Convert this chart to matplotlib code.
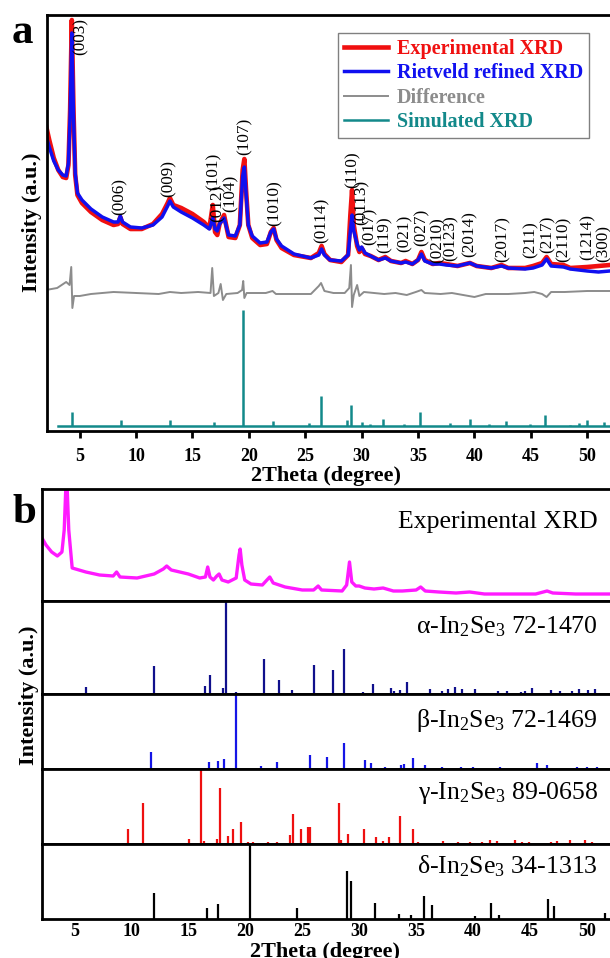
import matplotlib
matplotlib.use("Agg")
import matplotlib.pyplot as plt

plt.rcParams['font.family'] = ['Liberation Serif', 'DejaVu Serif']
plt.rcParams['mathtext.fontset'] = 'custom'
plt.rcParams['mathtext.rm'] = 'Liberation Serif'
plt.rcParams['mathtext.it'] = 'Liberation Serif:italic'

# ---- panel a: experimental / refined / difference / simulated ----
exp_x = [2.0, 2.3, 2.7, 3.1, 3.5, 3.8, 4.0, 4.15, 4.3, 4.45, 4.6, 4.8, 5.2, 6.0, 7.0, 8.0,
         8.4, 8.6, 8.8, 9.5, 10.5, 11.5, 12.3, 12.8, 13.0, 13.3, 14.0, 15.0, 16.0, 16.5,
         16.8, 17.0, 17.2, 17.4, 17.8, 18.2, 18.8, 19.2, 19.45, 19.6, 19.75, 19.95, 20.3,
         21.0, 21.6, 21.95, 22.2, 22.45, 22.9, 24.0, 25.5, 26.2, 26.45, 26.7, 27.2, 28.2,
         28.8, 29.0, 29.15, 29.3, 29.6, 29.8, 30.0, 30.3, 30.8, 31.5, 32.1, 32.6, 33.5,
         33.9, 34.5, 35.0, 35.3, 35.6, 36.3, 36.9, 37.5, 38.5, 39.6, 40.2, 41.5, 42.4,
         43.0, 44.5, 45.2, 46.0, 46.4, 46.8, 47.9, 48.5, 50.0, 51.0, 52.0]
exp_y = [306, 291, 273, 261, 254, 253, 266, 321, 411, 321, 256, 236, 228, 219, 211, 206,
         207, 214, 207, 202, 202, 207, 217, 228, 233, 226, 223, 217, 209, 203,
         226, 199, 196, 207, 216, 194, 193, 206, 261, 272, 241, 206, 193,
         186, 187, 199, 203, 191, 183, 176, 173, 178, 185, 177, 171, 169,
         176, 216, 241, 206, 185, 179, 183, 177, 175, 171, 174, 170, 168,
         170, 167, 171, 179, 171, 167, 168, 167, 165, 168, 165, 163, 166,
         163, 163, 165, 168, 174, 167, 166, 163, 164, 165, 166]
fit_y = [296, 284, 270, 261, 256, 255, 268, 315, 398, 315, 258, 238, 231, 222, 214, 209,
         209, 215, 209, 204, 203, 206, 214, 225, 230, 224, 219, 213, 206, 202,
         213, 202, 200, 207, 213, 196, 195, 206, 255, 264, 238, 206, 195,
         188, 189, 199, 202, 192, 185, 177, 173, 176, 182, 176, 171, 170,
         176, 200, 216, 200, 187, 181, 184, 178, 175, 171, 173, 170, 168,
         169, 167, 171, 177, 170, 167, 167, 166, 165, 168, 165, 163, 165,
         163, 162, 163, 166, 172, 165, 164, 162, 160, 159, 160]

diff_x = [2.0, 3.0, 3.8, 4.1, 4.25, 4.35, 4.5, 5.0, 6, 8, 10, 12, 13, 14, 15.5, 16.6, 16.75,
          16.9, 17.3, 17.5, 17.7, 18.0, 19.0, 19.4, 19.5, 19.6, 19.8, 21.5, 22.1, 22.4,
          25.5, 26.2, 26.4, 26.7, 27.5, 28.5, 28.9, 29.05, 29.15, 29.3, 29.6, 29.8, 30.2,
          32, 33, 34, 34.8, 35.3, 35.6, 37, 38, 39.5, 40, 41, 43, 44.5, 45.3, 46.0, 46.4,
          46.8, 48, 50, 52]
diff_y = [141, 143, 149, 146, 164, 123, 135, 135, 137, 139, 138, 137, 139, 138, 139, 138, 163,
          135, 138, 147, 131, 137, 138, 141, 150, 133, 138, 138, 140, 137,
          137, 145, 148, 140, 138, 138, 143, 166, 124, 136, 146, 135, 139,
          137, 138, 136, 139, 141, 138, 137, 138, 135, 134, 137, 137, 138, 139, 137, 134,
          139, 139, 140, 140]

sim_start, sim_end, sim_base = 3.1, 52.0, 5
sim_pos = [4.3, 8.7, 13.0, 16.9, 19.5, 22.1, 25.3, 26.4, 28.7, 29.06, 30.0, 30.7, 31.9,
           33.8, 35.2, 37.8, 39.6, 41.3, 42.8, 44.9, 46.3, 48.5, 49.3, 50.0, 51.5]
sim_int = [14, 6, 6, 4, 116, 5, 3, 30, 6, 21, 4, 2, 7, 2, 14, 3, 7, 2, 5, 2, 11, 1, 3, 6, 4]

hkl_labels = ['(003)', '(006)', '(009)', '(101)', '(012)', '(104)', '(107)', '(1010)',
              '(0114)', '(110)', '(0113)', '(017)', '(119)', '(021)', '(027)', '(0210)',
              '(0123)', '(2014)', '(2017)', '(211)', '(217)', '(2110)', '(1214)', '(300)']
hkl_x = [5.1, 8.5, 12.9, 16.85, 17.2, 18.35, 19.6, 22.25, 26.45, 29.2, 30.0, 30.7, 32.05,
         33.8, 35.3, 36.7, 37.9, 39.6, 42.5, 45.0, 46.45, 47.9, 50.0, 51.45]
hkl_y = [376, 216, 234, 241, 209, 219, 276, 205, 188, 243, 206, 186, 178, 179, 185, 168,
         170, 174, 169, 173, 178, 169, 171, 169]

# ---- panel b: experimental + reference stick patterns ----
mag_x = [2.0, 2.5, 3.0, 3.5, 3.9, 4.1, 4.3, 4.5, 4.8, 6.0, 7.2, 8.4, 8.7, 9.0, 10.5, 12.0,
         12.8, 13.1, 13.5, 15.0, 16.0, 16.5, 16.7, 16.9, 17.2, 17.5, 17.7, 17.95, 18.5,
         19.2, 19.45, 19.55, 19.7, 19.95, 20.5, 21.5, 21.9, 22.15, 22.45, 23.5, 25.0,
         26.0, 26.4, 26.7, 28.5, 28.9, 29.15, 29.35, 29.7, 30.0, 30.5, 31.3, 32.1, 33.0,
         33.8, 35.0, 35.4, 35.8, 37.0, 38.5, 39.7, 41.0, 43.0, 45.5, 46.5, 47.0, 49.0, 52.0]
mag_y = [66, 56, 49, 45, 49, 71, 131, 71, 33, 29, 26, 25, 29, 24, 23, 27,
         32, 35, 31, 27, 23, 24, 34, 24, 21, 25, 27, 21, 19,
         23, 46, 52, 36, 21, 17, 16, 21, 24, 18, 14, 11,
         11, 15, 11, 10, 16, 39, 19, 15, 15, 13, 12, 13, 10,
         10, 11, 14, 10, 9, 8, 9, 7, 7, 7, 10, 8, 7, 7]

alpha_pos = [6.0, 12.0, 16.5, 16.9, 18.0, 18.3, 19.2, 21.6, 23.0, 24.1, 26.05, 27.7, 28.7,
             30.35, 31.2, 32.8, 33.1, 33.6, 34.2, 36.2, 37.25, 37.8, 38.4, 39.0, 40.2,
             42.2, 43.0, 44.2, 44.6, 45.2, 46.8, 47.6, 48.7, 49.3, 50.1, 50.7]
alpha_int = [7, 28, 8, 19, 6, 92, 2, 35, 14, 4, 29, 24, 45,
             2, 10, 6, 3, 4, 12, 5, 3, 5, 7, 5, 5,
             3, 3, 2, 3, 6, 4, 3, 3, 5, 4, 5]

beta_pos = [11.7, 16.8, 17.6, 18.15, 19.15, 21.4, 22.75, 25.7, 27.2, 28.7, 30.5, 31.0,
            32.3, 33.7, 33.9, 34.7, 35.8, 37.25, 38.9, 40.0, 42.4, 45.6, 46.5, 49.1,
            50.0, 50.9]
beta_int = [17, 7, 8, 10, 75, 3, 7, 14, 12, 26, 9, 6,
            2, 4, 5, 11, 4, 2, 2, 2, 2, 6, 4, 2,
            2, 2]

gamma_pos = [9.25, 9.7, 11.0, 12.8, 15.05, 16.1, 16.4, 17.5, 17.75, 18.5, 18.9, 19.6, 20.25,
             20.7, 22.0, 22.8, 23.9, 24.15, 24.9, 25.5, 25.7, 28.2, 28.4, 29.0, 30.45,
             31.5, 32.1, 32.6, 33.6, 34.7, 35.2, 37.4, 38.7, 39.7, 40.75, 41.5, 42.1,
             43.7, 44.3, 44.9, 46.8, 47.4, 48.5, 49.8, 50.4]
gamma_int = [1, 15, 41, 1, 5, 75, 3, 5, 56, 8, 15, 22, 2,
             2, 2, 2, 9, 30, 15, 17, 17, 41, 4, 10, 15,
             7, 3, 7, 28, 15, 2, 3, 2, 2, 2, 4, 3,
             4, 2, 2, 2, 3, 4, 4, 2]

delta_pos = [11.95, 16.6, 17.6, 20.4, 24.5, 28.9, 29.3, 31.4, 33.5, 34.55, 35.7, 36.4,
             40.2, 41.6, 42.3, 46.6, 47.1, 51.6]
delta_int = [26, 11, 15, 75, 11, 48, 38, 16, 5, 4, 23, 14, 3, 16, 4, 20, 13, 6]

ticks = [5, 10, 15, 20, 25, 30, 35, 40, 45, 50]

W, H = 610, 958
fig = plt.figure(figsize=(W / 100, H / 100), dpi=100)


def box(x0, y0, x1, y1):
    # pixel box (top-left origin) -> figure fraction rect
    return [x0 / W, 1 - y1 / H, (x1 - x0) / W, (y1 - y0) / H]


# panel a
ax = fig.add_axes(box(47, 15, 612, 431))
ax.plot(exp_x, exp_y, color='#f01010', lw=3.3, label='Experimental XRD', solid_joinstyle='round')
ax.plot(exp_x, fit_y, color='#1010f0', lw=2.5, label='Rietveld refined XRD', solid_joinstyle='round')
ax.plot(diff_x, diff_y, color='#8c8c8c', lw=1.4, label='Difference')
ax.plot([sim_start, sim_end], [sim_base, sim_base], color='#13898a', lw=1.8, label='Simulated XRD')
ax.vlines(sim_pos, sim_base, [sim_base + v for v in sim_int], color='#13898a', lw=1.8)
for lab, x, y in zip(hkl_labels, hkl_x, hkl_y):
    ax.text(x, y, lab, rotation=90, ha='center', va='bottom', fontsize=12.3)
ax.set_xlim(2.1, 52.2)
ax.set_ylim(0, 416)
ax.set_yticks([])
ax.set_xticks(ticks)
ax.tick_params(axis='x', direction='out', length=5, width=2, labelsize=13, pad=7)
for t in ax.get_xticklabels():
    t.set_fontweight('bold')
for s in ax.spines.values():
    s.set_linewidth(2)
leg = ax.legend(loc='upper right', bbox_to_anchor=(0.959, 0.957), borderaxespad=0,
                fancybox=False, edgecolor='#808080', framealpha=1,
                prop={'weight': 'bold', 'size': 14.5}, handlelength=2.2,
                handletextpad=0.4, labelspacing=0.22, borderpad=0.3)
leg.get_frame().set_linewidth(1)
for txt, line in zip(leg.get_texts(), leg.get_lines()):
    txt.set_color(line.get_color())

fig.text(12 / W, 1 - 43 / H, 'a', fontsize=31, fontweight='bold', ha='left', va='baseline')
fig.text(32 / W, 1 - 222 / H, 'Intensity (a.u.)', rotation=90, fontsize=16, fontweight='bold',
         ha='center', va='center')
fig.text(326 / W, 1 - 476 / H, '2Theta (degree)', fontsize=16, fontweight='bold',
         ha='center', va='center')

# panel b
rows = [(489, 601), (601, 694), (694, 769), (769, 844), (844, 919)]
names = ['Experimental XRD',
         r'α-In$_\mathregular{2}$Se$_\mathregular{3}$ 72-1470',
         r'β-In$_\mathregular{2}$Se$_\mathregular{3}$ 72-1469',
         r'γ-In$_\mathregular{2}$Se$_\mathregular{3}$ 89-0658',
         r'δ-In$_\mathregular{2}$Se$_\mathregular{3}$ 34-1313']
name_y = [0.708, 0.72, 0.64, 0.68, 0.70]
sticks = [None, (alpha_pos, alpha_int, '#10108c'), (beta_pos, beta_int, '#1515e6'),
          (gamma_pos, gamma_int, '#ee1010'), (delta_pos, delta_int, '#000000')]
for i, (y0, y1) in enumerate(rows):
    bx = fig.add_axes(box(42, y0, 612, y1))
    if i == 0:
        bx.plot(mag_x, mag_y, color='#ff1aff', lw=2.4)
    else:
        pos, inten, col = sticks[i]
        bx.vlines(pos, 0, inten, color=col, lw=1.6)
    bx.set_xlim(2.15, 52.2)
    bx.set_ylim(0, y1 - y0)
    bx.set_yticks([])
    bx.set_xticks(ticks)
    bx.tick_params(axis='x', length=0, labelsize=13, pad=3)
    if i < len(rows) - 1:
        bx.set_xticklabels([])
    else:
        for t in bx.get_xticklabels():
            t.set_fontweight('bold')
    for s in bx.spines.values():
        s.set_linewidth(2)
    bx.text(0.975, name_y[i], names[i], transform=bx.transAxes, ha='right', va='center',
            fontsize=18.5)

fig.text(12 / W, 1 - 523 / H, 'b', fontsize=31, fontweight='bold', ha='left', va='baseline')
fig.text(29 / W, 1 - 695 / H, 'Intensity (a.u.)', rotation=90, fontsize=16, fontweight='bold',
         ha='center', va='center')
fig.text(325 / W, 1 - 942 / H, '2Theta (degree)', fontsize=16, fontweight='bold',
         ha='center', va='top')

fig.savefig('out.png', dpi=100)
